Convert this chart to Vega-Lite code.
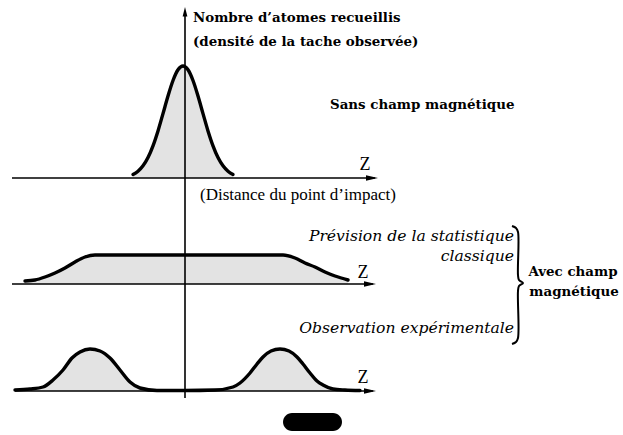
{
  "$schema": "https://vega.github.io/schema/vega-lite/v6.json",
  "width": 623,
  "height": 435,
  "autosize": {"type": "fit", "contains": "padding"},
  "padding": 0,
  "background": "white",
  "config": {"view": {"stroke": null}},
  "datasets": {
    "curves": [
      {"s": "g", "x": -52, "y": 260.5, "b": 257}, {"s": "g", "x": -47, "y": 263.8, "b": 257},
      {"s": "g", "x": -42, "y": 269.2, "b": 257}, {"s": "g", "x": -37, "y": 277.5, "b": 257},
      {"s": "g", "x": -32, "y": 289.2, "b": 257}, {"s": "g", "x": -27, "y": 304.1, "b": 257},
      {"s": "g", "x": -22, "y": 321.4, "b": 257}, {"s": "g", "x": -17, "y": 339, "b": 257},
      {"s": "g", "x": -12, "y": 354.5, "b": 257}, {"s": "g", "x": -7, "y": 365.2, "b": 257},
      {"s": "g", "x": -2, "y": 369, "b": 257}, {"s": "g", "x": 3, "y": 365.2, "b": 257},
      {"s": "g", "x": 8, "y": 354.5, "b": 257}, {"s": "g", "x": 13, "y": 339, "b": 257},
      {"s": "g", "x": 18, "y": 321.4, "b": 257}, {"s": "g", "x": 23, "y": 304.1, "b": 257},
      {"s": "g", "x": 28, "y": 289.2, "b": 257}, {"s": "g", "x": 33, "y": 277.5, "b": 257},
      {"s": "g", "x": 38, "y": 269.2, "b": 257}, {"s": "g", "x": 43, "y": 263.8, "b": 257},
      {"s": "g", "x": 48, "y": 260.5, "b": 257},
      {"s": "p", "x": -160, "y": 154, "b": 151}, {"s": "p", "x": -150, "y": 155, "b": 151},
      {"s": "p", "x": -140, "y": 158, "b": 151}, {"s": "p", "x": -130, "y": 162, "b": 151},
      {"s": "p", "x": -120, "y": 167, "b": 151}, {"s": "p", "x": -110, "y": 173, "b": 151},
      {"s": "p", "x": -100, "y": 178, "b": 151}, {"s": "p", "x": -90, "y": 180, "b": 151},
      {"s": "p", "x": 0, "y": 180, "b": 151}, {"s": "p", "x": 98, "y": 180, "b": 151},
      {"s": "p", "x": 110, "y": 177, "b": 151}, {"s": "p", "x": 120, "y": 172, "b": 151},
      {"s": "p", "x": 130, "y": 168, "b": 151}, {"s": "p", "x": 140, "y": 163, "b": 151},
      {"s": "p", "x": 150, "y": 159, "b": 151}, {"s": "p", "x": 163, "y": 155, "b": 151},
      {"s": "o", "x": -170, "y": 45, "b": 44}, {"s": "o", "x": -155, "y": 46, "b": 44},
      {"s": "o", "x": -142, "y": 48, "b": 44}, {"s": "o", "x": -132, "y": 55, "b": 44},
      {"s": "o", "x": -122, "y": 65, "b": 44}, {"s": "o", "x": -113, "y": 77, "b": 44},
      {"s": "o", "x": -105, "y": 83, "b": 44}, {"s": "o", "x": -95, "y": 86, "b": 44},
      {"s": "o", "x": -85, "y": 84, "b": 44}, {"s": "o", "x": -75, "y": 77, "b": 44},
      {"s": "o", "x": -65, "y": 65, "b": 44}, {"s": "o", "x": -55, "y": 53, "b": 44},
      {"s": "o", "x": -45, "y": 47, "b": 44}, {"s": "o", "x": -28, "y": 44.5, "b": 44},
      {"s": "o", "x": 0, "y": 44.5, "b": 44}, {"s": "o", "x": 30, "y": 45, "b": 44},
      {"s": "o", "x": 48, "y": 48, "b": 44}, {"s": "o", "x": 55, "y": 52, "b": 44},
      {"s": "o", "x": 65, "y": 62, "b": 44}, {"s": "o", "x": 72, "y": 71, "b": 44},
      {"s": "o", "x": 78, "y": 78, "b": 44}, {"s": "o", "x": 86, "y": 84, "b": 44},
      {"s": "o", "x": 95, "y": 86, "b": 44}, {"s": "o", "x": 104, "y": 84, "b": 44},
      {"s": "o", "x": 112, "y": 78, "b": 44}, {"s": "o", "x": 118, "y": 71, "b": 44},
      {"s": "o", "x": 125, "y": 62, "b": 44}, {"s": "o", "x": 132, "y": 54, "b": 44},
      {"s": "o", "x": 138, "y": 50, "b": 44}, {"s": "o", "x": 148, "y": 46, "b": 44},
      {"s": "o", "x": 160, "y": 45, "b": 44}, {"s": "o", "x": 175, "y": 44.5, "b": 44}
    ],
    "axes": [
      {"x": -173, "x2": 190, "y": 257, "y2": 257},
      {"x": -173, "x2": 188, "y": 151, "y2": 151},
      {"x": -170, "x2": 188, "y": 44, "y2": 44},
      {"x": 0, "x2": 0, "y": 37, "y2": 424}
    ],
    "heads": [
      {"x": 187, "y": 257, "dir": "right"},
      {"x": 185, "y": 151, "dir": "right"},
      {"x": 185, "y": 44, "dir": "right"},
      {"x": 0, "y": 422, "dir": "up"}
    ],
    "brace": [
      {"i": 0, "x": 327, "y": 209}, {"i": 1, "x": 331, "y": 207}, {"i": 2, "x": 333, "y": 203},
      {"i": 3, "x": 333, "y": 160}, {"i": 4, "x": 334, "y": 155}, {"i": 5, "x": 338, "y": 152},
      {"i": 6, "x": 334, "y": 149}, {"i": 7, "x": 333, "y": 144}, {"i": 8, "x": 333, "y": 97},
      {"i": 9, "x": 331, "y": 93}, {"i": 10, "x": 327, "y": 91}
    ],
    "blob": [{"x": 98, "x2": 157, "y": 4, "y2": 22}],
    "labels": [
      {"k": "boldL", "x": 8, "y": 413, "t": "Nombre d’atomes recueillis"},
      {"k": "boldL", "x": 8, "y": 389, "t": "(densité de la tache observée)"},
      {"k": "boldL", "x": 145, "y": 326, "t": "Sans champ magnétique"},
      {"k": "boldC", "x": 388, "y": 159, "t": "Avec champ"},
      {"k": "boldC", "x": 389, "y": 139, "t": "magnétique"},
      {"k": "ital", "x": 329, "y": 194, "t": "Prévision de la statistique"},
      {"k": "ital", "x": 329, "y": 174, "t": "classique"},
      {"k": "ital", "x": 329, "y": 102, "t": "Observation expérimentale"},
      {"k": "norm", "x": 15, "y": 235, "t": "(Distance du point d’impact)"},
      {"k": "z", "x": 180, "y": 265, "t": "Z"},
      {"k": "z", "x": 178, "y": 157, "t": "Z"},
      {"k": "z", "x": 178, "y": 52, "t": "Z"}
    ]
  },
  "encoding": {
    "x": {"field": "x", "type": "quantitative", "scale": {"domain": [-185, 438], "nice": false, "zero": false}, "axis": null},
    "y": {"field": "y", "type": "quantitative", "scale": {"domain": [0, 435], "nice": false, "zero": false}, "axis": null}
  },
  "layer": [
    {
      "data": {"name": "curves"},
      "mark": {"type": "area", "interpolate": "monotone", "color": "#e3e3e3"},
      "encoding": {"y2": {"field": "b"}, "detail": {"field": "s", "type": "nominal"}}
    },
    {
      "data": {"name": "axes"},
      "mark": {"type": "rule", "color": "black", "strokeWidth": 1.6},
      "encoding": {"x2": {"field": "x2"}, "y2": {"field": "y2"}}
    },
    {
      "data": {"name": "heads"},
      "mark": {"type": "point", "filled": true, "color": "black", "opacity": 1, "size": 144},
      "encoding": {
        "shape": {"field": "dir", "type": "nominal", "legend": null,
          "scale": {"domain": ["right", "up"], "range": ["M1,0L-1,-0.45L-1,0.45Z", "M0,-1L0.4,0.6L-0.4,0.6Z"]}}
      }
    },
    {
      "data": {"name": "curves"},
      "mark": {"type": "line", "interpolate": "monotone", "color": "black", "strokeWidth": 3.4, "strokeCap": "round"},
      "encoding": {"detail": {"field": "s", "type": "nominal"}}
    },
    {
      "data": {"name": "brace"},
      "mark": {"type": "line", "interpolate": "catmull-rom", "color": "black", "strokeWidth": 2},
      "encoding": {"order": {"field": "i", "type": "quantitative"}}
    },
    {
      "data": {"name": "blob"},
      "mark": {"type": "rect", "color": "black", "cornerRadius": 9},
      "encoding": {"x2": {"field": "x2"}, "y2": {"field": "y2"}}
    },
    {
      "data": {"name": "labels"},
      "transform": [{"filter": "datum.k === 'boldL'"}],
      "mark": {"type": "text", "font": "DejaVu Serif", "fontWeight": "bold", "fontSize": 13.4, "align": "left", "baseline": "alphabetic", "color": "black"},
      "encoding": {"text": {"field": "t"}}
    },
    {
      "data": {"name": "labels"},
      "transform": [{"filter": "datum.k === 'boldC'"}],
      "mark": {"type": "text", "font": "DejaVu Serif", "fontWeight": "bold", "fontSize": 13.4, "align": "center", "baseline": "alphabetic", "color": "black"},
      "encoding": {"text": {"field": "t"}}
    },
    {
      "data": {"name": "labels"},
      "transform": [{"filter": "datum.k === 'ital'"}],
      "mark": {"type": "text", "font": "DejaVu Serif", "fontStyle": "italic", "fontSize": 15.6, "align": "right", "baseline": "alphabetic", "color": "black"},
      "encoding": {"text": {"field": "t"}}
    },
    {
      "data": {"name": "labels"},
      "transform": [{"filter": "datum.k === 'norm'"}],
      "mark": {"type": "text", "font": "Liberation Serif", "fontSize": 17, "align": "left", "baseline": "alphabetic", "color": "black"},
      "encoding": {"text": {"field": "t"}}
    },
    {
      "data": {"name": "labels"},
      "transform": [{"filter": "datum.k === 'z'"}],
      "mark": {"type": "text", "font": "Liberation Serif", "fontSize": 18, "align": "center", "baseline": "alphabetic", "color": "black"},
      "encoding": {"text": {"field": "t"}}
    }
  ]
}
